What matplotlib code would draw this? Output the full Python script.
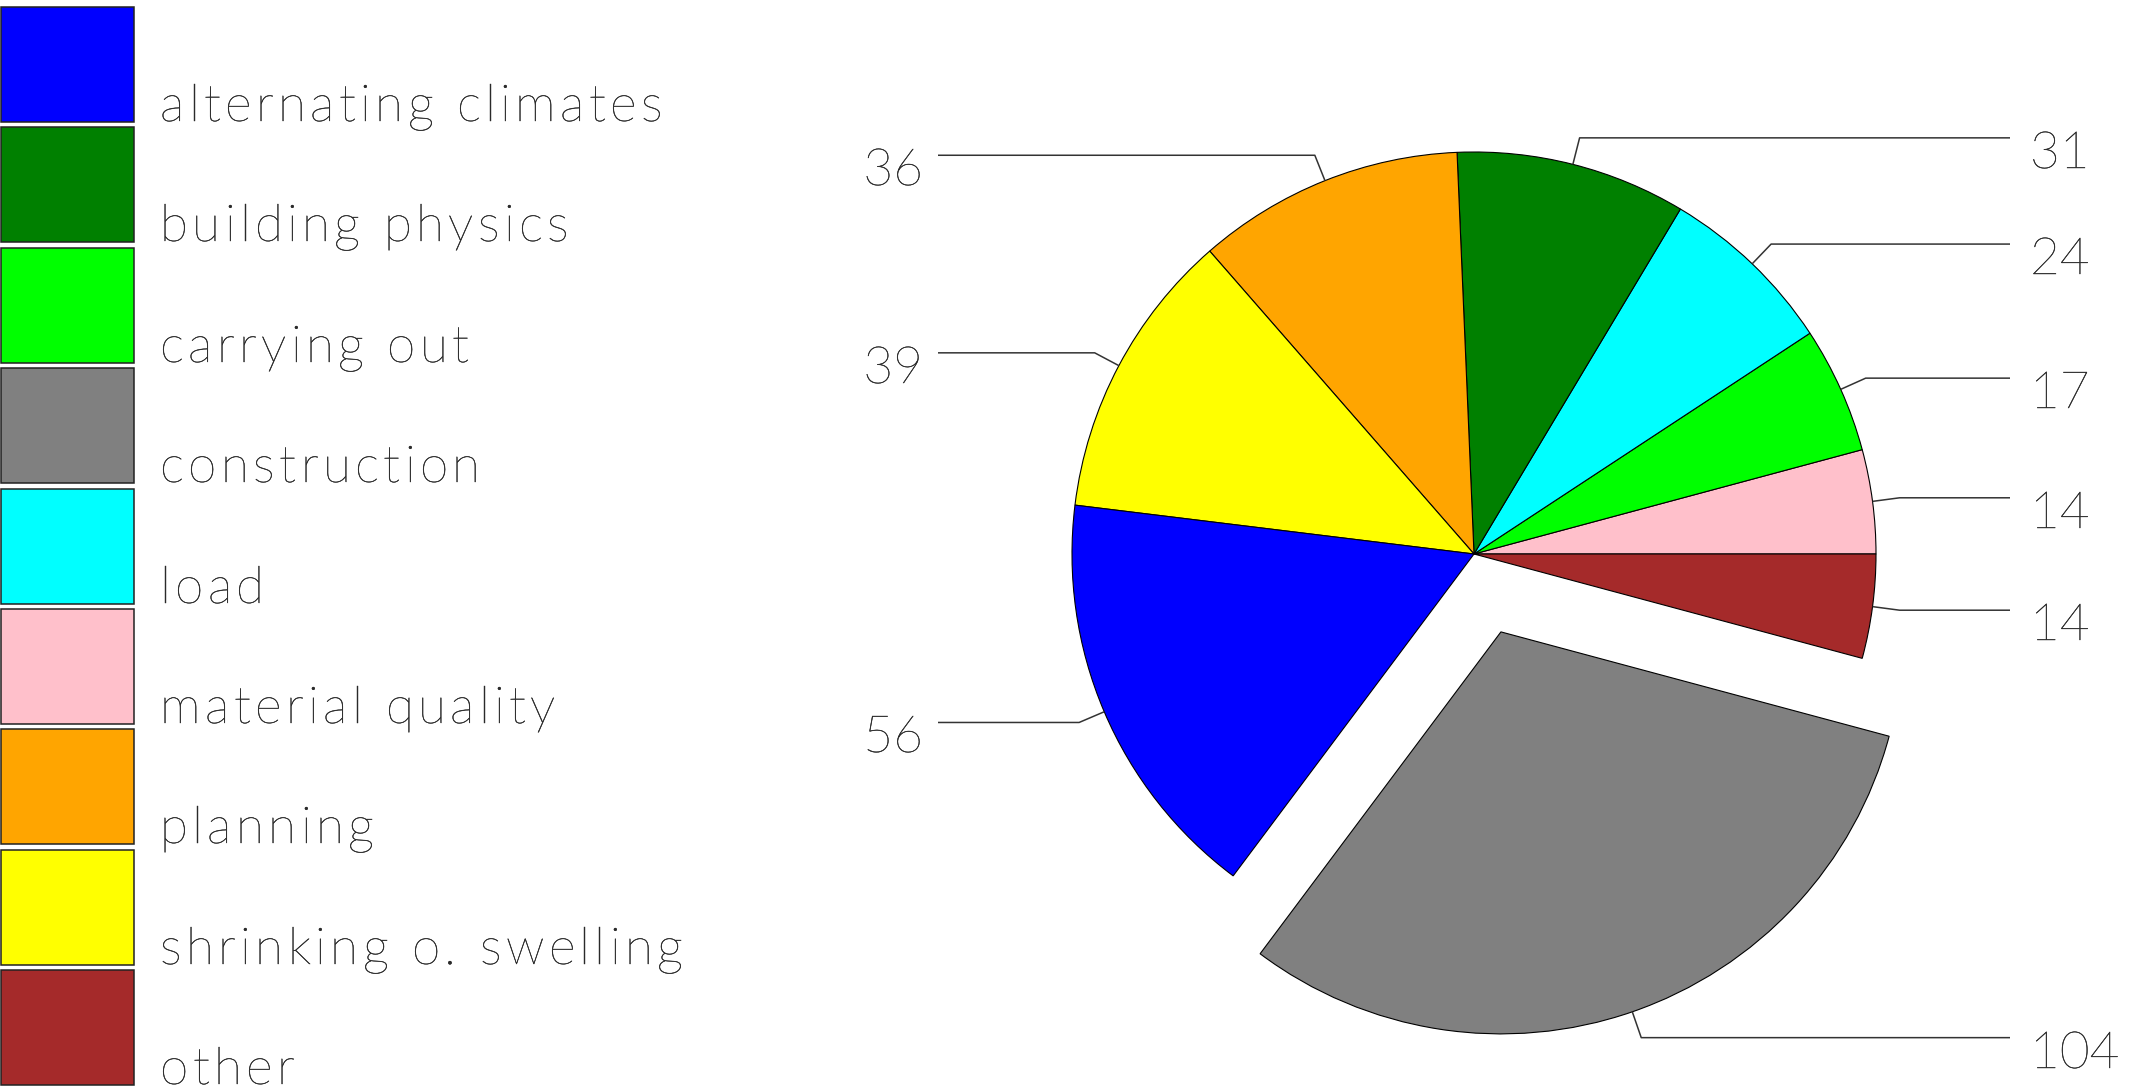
import numpy as np
import matplotlib.pyplot as plt
import matplotlib.patheffects as pe
from matplotlib import font_manager
from matplotlib.ft2font import FT2Font
from matplotlib.patches import Rectangle

categories = ['alternating climates', 'building physics', 'carrying out',
              'construction', 'load', 'material quality', 'planning',
              'shrinking o. swelling', 'other']
counts = [56, 31, 17, 104, 24, 14, 36, 39, 14]
colors = ['#0000ff', '#008000', '#00ff00', '#808080', '#00ffff',
          '#ffc0cb', '#ffa500', '#ffff00', '#a52a2a']
highlight = 'construction'

W, H = 2144, 1090
DPI = 100
SIZE = 37
WEIGHT = 200
TXT = '#2a2a2a'
FONT = dict(family=['Lato', 'DejaVu Sans'], fontweight=WEIGHT, fontsize=SIZE, color=TXT,
            path_effects=[pe.withStroke(linewidth=0.3, foreground=TXT)])

fig = plt.figure(figsize=(W / DPI, H / DPI), dpi=DPI)
ax = fig.add_axes([0, 0, 1, 1])

# glyph advances, used to letter-space the legend labels
prop = font_manager.FontProperties(family='Lato', weight=WEIGHT, size=SIZE)
ft = FT2Font(font_manager.findfont(prop))
ft.set_size(SIZE, DPI)


def spaced_text(x, y, s, track=4.4):
    for ch in s:
        # whole-pixel positions keep the thin stems equally sharp
        ax.text(round(x), y, ch, ha='left', va='baseline', **FONT)
        x += ft.load_char(ord(ch)).linearHoriAdvance / 65536 + track


# pie order: ascending by count, "other" always closes the circle
order = sorted([i for i, c in enumerate(categories) if c != 'other'],
               key=lambda i: counts[i])
order.append(categories.index('other'))

R = 402
cx, cy = 1474, H - 554
explode = [0.205 * R if categories[i] == highlight else 0 for i in order]

wedges, _ = ax.pie([counts[i] for i in order],
                   colors=[colors[i] for i in order],
                   explode=explode, radius=R, center=(cx, cy),
                   startangle=0, counterclock=True,
                   wedgeprops=dict(edgecolor='black', linewidth=0.8))

# leader lines + value labels
for w, i in zip(wedges, order):
    ang = np.deg2rad((w.theta1 + w.theta2) / 2)
    u = np.array([np.cos(ang), np.sin(ang)])
    c = np.array(w.center)
    p0 = c + R * u
    p1 = c + 1.068 * R * u
    if u[0] < 0:
        x_end, xt, ha = 938, 923, 'right'
    else:
        x_end, xt, ha = 2010, 2030, 'left'
    ax.plot([p0[0], p1[0], x_end], [p0[1], p1[1], p1[1]],
            color='#333333', lw=1.1, solid_capstyle='butt')
    ax.text(xt, round(p1[1] - 30), str(counts[i]), ha=ha, va='baseline', **FONT)

# legend boxes down the left side
for k, (name, col) in enumerate(zip(categories, colors)):
    top = 7 + k * 120.4
    bottom = H - top - 115
    ax.add_patch(Rectangle((0.8, bottom), 133, 115, facecolor=col,
                           edgecolor='#222222', linewidth=1.1))
    spaced_text(160, round(bottom + 1), name)

ax.set_xlim(0, W)
ax.set_ylim(0, H)
ax.set_aspect('equal', adjustable='box')
ax.axis('off')

fig.savefig('out.png', dpi=DPI, facecolor='white')
